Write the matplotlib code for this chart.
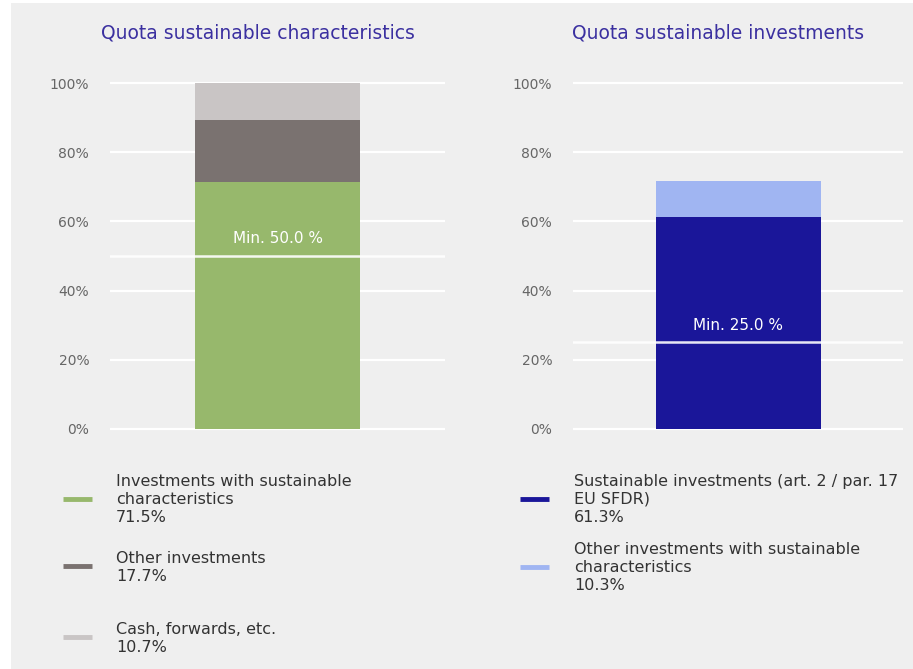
import matplotlib
matplotlib.use("Agg")
import matplotlib.pyplot as plt
from matplotlib.patches import Rectangle
from matplotlib.lines import Line2D

# data
left_title = "Quota sustainable characteristics"
left_labels = ["Investments with sustainable\ncharacteristics",
               "Other investments",
               "Cash, forwards, etc."]
left_values = [71.5, 17.7, 10.7]
left_colors = ["#97b86c", "#7a7270", "#c9c5c5"]
left_min = 50.0

right_title = "Quota sustainable investments"
right_labels = ["Sustainable investments (art. 2 / par. 17\nEU SFDR)",
                "Other investments with sustainable\ncharacteristics"]
right_values = [61.3, 10.3]
right_colors = ["#1a1699", "#a0b5f2"]
right_min = 25.0

yticks = [0, 20, 40, 60, 80, 100]

BG = "#efefef"
TITLE_C = "#3b30a0"
TEXT_C = "#333333"
TICK_C = "#666666"

plt.rcParams['font.family'] = ['DejaVu Sans']

fig = plt.figure(figsize=(9.13, 6.69), dpi=100, facecolor="white")
fig.patches.append(Rectangle((11 / 913, 0), 1, 1 - 3 / 669, transform=fig.transFigure,
                             facecolor=BG, edgecolor="none", zorder=-10))


def draw_panel(rect, values, colors, min_val, title, title_x, bar_w):
    ax = fig.add_axes(rect)
    ax.patch.set_alpha(0)
    bottom = 0
    for v, c in zip(values, colors):
        ax.bar(0, v, bottom=bottom, width=bar_w, color=c, zorder=2)
        bottom += v
    ax.set_xlim(-1, 1)
    ax.set_ylim(-2, 102)
    ax.set_yticks(yticks)
    ax.set_yticklabels([f"{t}%" for t in yticks])
    ax.tick_params(axis='y', length=0, pad=15, labelsize=10, labelcolor=TICK_C)
    ax.set_xticks([])
    for s in ax.spines.values():
        s.set_visible(False)
    for t in yticks:
        ax.axhline(t, color="white", lw=1.6, zorder=1)
    # minimum line
    ax.axhline(min_val, color="white", lw=1.8, zorder=3, alpha=0.9)
    ax.annotate(f"Min. {min_val:.1f} %", xy=(0, min_val), xytext=(0, 12.5),
                textcoords="offset points", ha="center", va="center",
                color="white", fontsize=11, zorder=4)
    fig.text(title_x, 1 - 33 / 669, title, ha="center", va="center",
             color=TITLE_C, fontsize=13.5)
    return ax


draw_panel([110 / 913, 1 - 435.9 / 669, 335 / 913, 359.8 / 669],
           left_values, left_colors, left_min, left_title, 258 / 913, 0.985)
draw_panel([573 / 913, 1 - 435.9 / 669, 330 / 913, 359.8 / 669],
           right_values, right_colors, right_min, right_title, 718 / 913, 1.0)


def draw_legend(labels, values, colors, x_handle, x_text, y_tops):
    for lab, v, c, yt in zip(labels, values, colors, y_tops):
        txt = f"{lab}\n{v}%"
        n = txt.count("\n") + 1
        yc = yt + (n - 1) * 20.5 / 2
        fig.add_artist(Line2D([x_handle / 913, (x_handle + 29) / 913],
                              [1 - (yc - 1) / 669] * 2,
                              transform=fig.transFigure, color=c, lw=3.5,
                              solid_capstyle="butt"))
        fig.text(x_text / 913, 1 - yc / 669, txt, ha="left", va="center",
                 color=TEXT_C, fontsize=11.5, linespacing=1.25)


# y of the first text line of each item (pixels from top)
draw_legend(left_labels, left_values, left_colors, 63, 116, [479, 557, 628])
draw_legend(right_labels, right_values, right_colors, 520, 574, [479, 547])

fig.savefig("out.png", dpi=100, facecolor="white")
